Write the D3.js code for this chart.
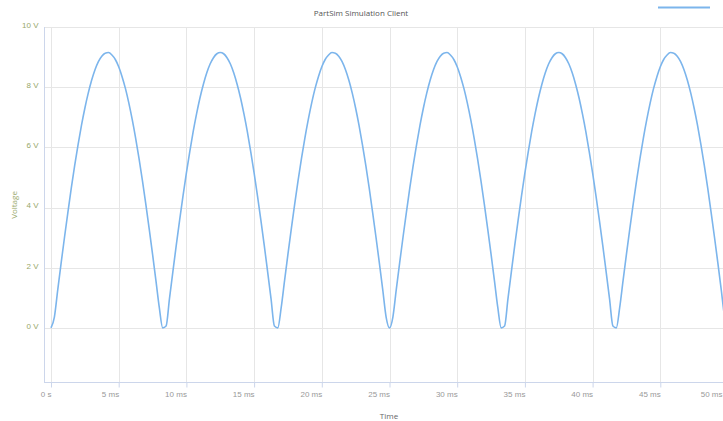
<!DOCTYPE html>
<html>
<head>
<meta charset="utf-8">
<script src="https://cdn.jsdelivr.net/npm/d3@7"></script>
<style>
  body { margin: 0; background: #fff; }
  svg { display: block; font-family: "Open Sans", "DejaVu Sans", sans-serif; }
</style>
</head>
<body>
<div id="chart"></div>
<script>
//PartSim output: full-wave rectified voltage, sampled every 0.25 ms from 0 to 50 ms

var chartTitle = "PartSim Simulation Client";
var xTitle = "Time";
var yTitle = "Voltage";
var sampleStepMs = 0.25;

//volts, one value per 0.25 ms sample
var volts = [
  0, 0.36, 1.27, 2.16, 3.02, 3.85, 4.65, 5.40, 6.09, 6.73,
  7.30, 7.80, 8.23, 8.58, 8.85, 9.03, 9.13, 9.15, 9.07, 8.92,
  8.68, 8.35, 7.95, 7.47, 6.92, 6.31, 5.63, 4.90, 4.12, 3.30,
  2.45, 1.57, 0.67, 0, 0.06, 0.97, 1.86, 2.74, 3.58, 4.39,
  5.15, 5.86, 6.52, 7.11, 7.64, 8.09, 8.47, 8.77, 8.98, 9.11,
  9.15, 9.11, 8.98, 8.77, 8.47, 8.09, 7.64, 7.11, 6.52, 5.86,
  5.15, 4.39, 3.58, 2.74, 1.86, 0.97, 0.06, 0, 0.67, 1.57,
  2.45, 3.30, 4.12, 4.90, 5.63, 6.31, 6.92, 7.47, 7.95, 8.35,
  8.68, 8.92, 9.07, 9.15, 9.13, 9.03, 8.85, 8.58, 8.23, 7.80,
  7.30, 6.73, 6.09, 5.40, 4.65, 3.85, 3.02, 2.16, 1.27, 0.36,
  0, 0.36, 1.27, 2.16, 3.02, 3.85, 4.65, 5.40, 6.09, 6.73,
  7.30, 7.80, 8.23, 8.58, 8.85, 9.03, 9.13, 9.15, 9.07, 8.92,
  8.68, 8.35, 7.95, 7.47, 6.92, 6.31, 5.63, 4.90, 4.12, 3.30,
  2.45, 1.57, 0.67, 0, 0.06, 0.97, 1.86, 2.74, 3.58, 4.39,
  5.15, 5.86, 6.52, 7.11, 7.64, 8.09, 8.47, 8.77, 8.98, 9.11,
  9.15, 9.11, 8.98, 8.77, 8.47, 8.09, 7.64, 7.11, 6.52, 5.86,
  5.15, 4.39, 3.58, 2.74, 1.86, 0.97, 0.06, 0, 0.67, 1.57,
  2.45, 3.30, 4.12, 4.90, 5.63, 6.31, 6.92, 7.47, 7.95, 8.35,
  8.68, 8.92, 9.07, 9.15, 9.13, 9.03, 8.85, 8.58, 8.23, 7.80,
  7.30, 6.73, 6.09, 5.40, 4.65, 3.85, 3.02, 2.16, 1.27, 0.36,
  0
];

var xTicks = [0, 5, 10, 15, 20, 25, 30, 35, 40, 45, 50];
var xTickLabels = ["0 s", "5 ms", "10 ms", "15 ms", "20 ms", "25 ms", "30 ms", "35 ms", "40 ms", "45 ms", "50 ms"];
var yTicks = [0, 2, 4, 6, 8, 10];
var yTickLabels = ["0 V", "2 V", "4 V", "6 V", "8 V", "10 V"];

var size = {w: 723, h: 421};
var plot = {left: 44, top: 27, bottom: 382};
var lineColor = "#7cb5ec";
var gridColor = "#e6e6e6";
var axisColor = "#ccd6eb";
var yLabelColor = "#98a86a";

var svg = d3.select("#chart").append("svg")
  .attr("width", size.w)
  .attr("height", size.h);

var x = d3.scaleLinear().domain([0, 50]).range([51, 728]);
var y = d3.scaleLinear().domain([-1.8, 10]).range([plot.bottom, plot.top]);

// title
svg.append("text")
  .attr("x", 361).attr("y", 16)
  .attr("text-anchor", "middle")
  .attr("font-size", "8px")
  .attr("fill", "#555")
  .text(chartTitle);

// horizontal gridlines
svg.append("g").selectAll("line")
  .data(yTicks).enter()
  .append("line")
    .attr("x1", plot.left).attr("x2", size.w)
    .attr("y1", function(d) { return Math.round(y(d)) + 0.5; })
    .attr("y2", function(d) { return Math.round(y(d)) + 0.5; })
    .attr("stroke", gridColor);

// vertical gridlines
svg.append("g").selectAll("line")
  .data(xTicks).enter()
  .append("line")
    .attr("x1", function(d) { return Math.round(x(d)) + 0.5; })
    .attr("x2", function(d) { return Math.round(x(d)) + 0.5; })
    .attr("y1", plot.top).attr("y2", plot.bottom)
    .attr("stroke", gridColor);

// x axis
var xAxis = d3.axisBottom(x)
  .tickValues(xTicks)
  .tickSize(5)
  .tickFormat(function(d, i) { return xTickLabels[i]; });

var gx = svg.append("g")
  .attr("transform", "translate(0," + (plot.bottom + 0.5) + ")")
  .call(xAxis);
gx.select(".domain").remove();
gx.selectAll(".tick line").attr("stroke", axisColor);
gx.selectAll(".tick text")
  .attr("text-anchor", "end")
  .attr("dy", null)
  .attr("y", 14)
  .attr("x", function(d) { return Math.min(0, size.w - 1 - x(d)); }) //keep the last label inside the frame
  .attr("fill", "#999")
  .attr("font-size", "8px")
  .attr("font-family", null);
gx.append("line")
  .attr("x1", plot.left).attr("x2", size.w)
  .attr("stroke", axisColor);

// y axis
var yAxis = d3.axisLeft(y)
  .tickValues(yTicks)
  .tickSize(0)
  .tickFormat(function(d, i) { return yTickLabels[i]; });

var gy = svg.append("g")
  .attr("transform", "translate(" + (plot.left + 0.5) + ",0)")
  .call(yAxis);
gy.select(".domain").remove();
gy.selectAll(".tick text")
  .attr("x", -6)
  .attr("dy", "0.05em")
  .attr("fill", yLabelColor)
  .attr("font-size", "8px")
  .attr("font-family", null);
gy.append("line")
  .attr("y1", plot.top).attr("y2", plot.bottom)
  .attr("stroke", axisColor);

// axis titles
svg.append("text")
  .attr("x", 389).attr("y", 419)
  .attr("text-anchor", "middle")
  .attr("font-size", "8px")
  .attr("fill", "#666")
  .text(xTitle);

svg.append("text")
  .attr("transform", "translate(17,205) rotate(-90)")
  .attr("text-anchor", "middle")
  .attr("font-size", "8px")
  .attr("fill", yLabelColor)
  .text(yTitle);

// voltage trace
var line = d3.line()
  .x(function(d, i) { return x(i * sampleStepMs); })
  .y(function(d) { return y(d); })
  .curve(d3.curveMonotoneX);

svg.append("path")
  .datum(volts)
  .attr("d", line)
  .attr("fill", "none")
  .attr("stroke", lineColor)
  .attr("stroke-width", 1.6)
  .attr("stroke-linejoin", "round");

// legend symbol (label runs off the right edge)
svg.append("line")
  .attr("x1", 658).attr("x2", 710)
  .attr("y1", 7.5).attr("y2", 7.5)
  .attr("stroke", lineColor)
  .attr("stroke-width", 2);
</script>
</body>
</html>
